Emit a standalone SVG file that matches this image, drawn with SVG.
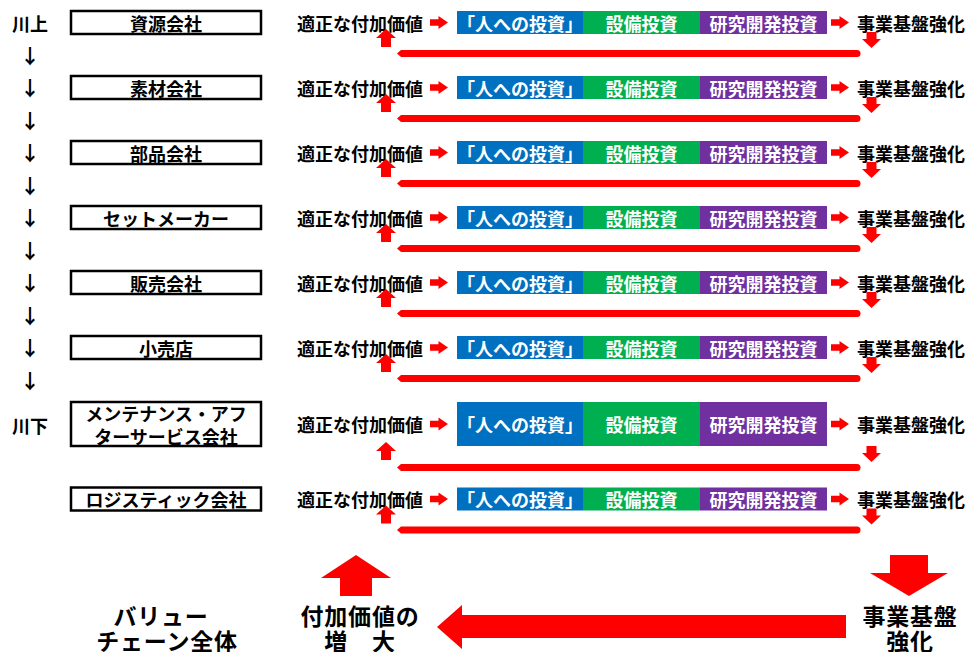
<svg xmlns="http://www.w3.org/2000/svg" xmlns:xlink="http://www.w3.org/1999/xlink" width="968" height="652" viewBox="0 0 968 652">
<style>
text{font-family:"Noto Sans CJK JP","Noto Sans CJK SC",sans-serif;font-weight:700;dominant-baseline:central;text-anchor:middle;fill:#000}
.t18{font-size:18px}
.t24{font-size:23px;letter-spacing:0.8px}
.w{fill:#fff}
.lbl{fill:#fff;stroke:#000;stroke-width:2.5}
.blue{fill:#0070C0}
.green{fill:#00B050}
.purple{fill:#7030A0}
.red{fill:#FF0000}
.sa{font-size:20px;fill:#000}
</style>
<defs>
<path id="ar" class="red" d="M0,-3.2H8.5V-6.5L18,0L8.5,6.5V3.2H0Z"/>
<path id="au" class="red" d="M0,0L10,9H5V18H-5V9H-10Z"/>
<path id="ad" class="red" d="M0,0L-9.5,-9H-5V-16H5V-9H9.5Z"/>
<path id="ln" class="red" d="M401,-3.5H857A3.5,3.5 0 0 1 857,3.5H401L397,0Z"/>
<g id="bands">
<rect class="blue" x="457" y="-11.5" width="126" height="23"/>
<rect class="green" x="583" y="-11.5" width="117" height="23"/>
<rect class="purple" x="700" y="-11.5" width="127" height="23"/>
<text class="t18 w" x="520" y="0">「人への投資」</text>
<text class="t18 w" x="641.5" y="0">設備投資</text>
<text class="t18 w" x="763.5" y="0">研究開発投資</text>
<text class="t18" x="360" y="0">適正な付加価値</text>
<text class="t18" x="911" y="0">事業基盤強化</text>
</g>
</defs>

<g id="side-labels">
<text class="t18" x="30" y="22.5">川上</text>
<text class="sa" x="30" y="55">↓</text>
<text class="sa" x="30" y="87.5">↓</text>
<text class="sa" x="30" y="120">↓</text>
<text class="sa" x="30" y="152.5">↓</text>
<text class="sa" x="30" y="185">↓</text>
<text class="sa" x="30" y="217.5">↓</text>
<text class="sa" x="30" y="250">↓</text>
<text class="sa" x="30" y="282.5">↓</text>
<text class="sa" x="30" y="315">↓</text>
<text class="sa" x="30" y="347.5">↓</text>
<text class="sa" x="30" y="380">↓</text>
<text class="t18" x="30" y="425">川下</text>
</g>

<g id="node-shigen">
<rect class="lbl" x="71" y="11" width="190" height="23"/>
<text class="t18" x="166" y="22.5">資源会社</text>
<use xlink:href="#bands" transform="translate(0,22.5)"/>
</g>
<g id="node-sozai">
<rect class="lbl" x="71" y="76" width="190" height="23"/>
<text class="t18" x="166" y="87.5">素材会社</text>
<use xlink:href="#bands" transform="translate(0,87.5)"/>
</g>
<g id="node-buhin">
<rect class="lbl" x="71" y="141" width="190" height="23"/>
<text class="t18" x="166" y="152.5">部品会社</text>
<use xlink:href="#bands" transform="translate(0,152.5)"/>
</g>
<g id="node-set">
<rect class="lbl" x="71" y="206" width="190" height="23"/>
<text class="t18" x="166" y="217.5">セットメーカー</text>
<use xlink:href="#bands" transform="translate(0,217.5)"/>
</g>
<g id="node-hanbai">
<rect class="lbl" x="71" y="271" width="190" height="23"/>
<text class="t18" x="166" y="282.5">販売会社</text>
<use xlink:href="#bands" transform="translate(0,282.5)"/>
</g>
<g id="node-kouri">
<rect class="lbl" x="71" y="336" width="190" height="23"/>
<text class="t18" x="166" y="347.5">小売店</text>
<use xlink:href="#bands" transform="translate(0,347.5)"/>
</g>
<g id="node-maint">
<rect class="lbl" x="71" y="402" width="190" height="44"/>
<text class="t18" x="166" y="413">メンテナンス・アフ</text>
<text class="t18" x="166" y="435.5">ターサービス会社</text>
<rect class="blue" x="457" y="402" width="126" height="44"/>
<rect class="green" x="583" y="402" width="117" height="44"/>
<rect class="purple" x="700" y="402" width="127" height="44"/>
<text class="t18 w" x="520" y="424">「人への投資」</text>
<text class="t18 w" x="641.5" y="424">設備投資</text>
<text class="t18 w" x="763.5" y="424">研究開発投資</text>
<text class="t18" x="360" y="424">適正な付加価値</text>
<text class="t18" x="911" y="424">事業基盤強化</text>
</g>
<g id="node-logi">
<rect class="lbl" x="71" y="487.5" width="190" height="23"/>
<text class="t18" x="166" y="499">ロジスティック会社</text>
<use xlink:href="#bands" transform="translate(0,499)"/>
</g>

<g id="connectors">
<use xlink:href="#ar" x="430" y="22.5"/><use xlink:href="#ar" x="831" y="22.5"/>
<use xlink:href="#au" x="386" y="29"/><use xlink:href="#ad" x="871.5" y="48"/><use xlink:href="#ln" y="53.5"/>
<use xlink:href="#ar" x="430" y="87.5"/><use xlink:href="#ar" x="831" y="87.5"/>
<use xlink:href="#au" x="386" y="94"/><use xlink:href="#ad" x="871.5" y="113"/><use xlink:href="#ln" y="118.5"/>
<use xlink:href="#ar" x="430" y="152.5"/><use xlink:href="#ar" x="831" y="152.5"/>
<use xlink:href="#au" x="386" y="159"/><use xlink:href="#ad" x="871.5" y="178"/><use xlink:href="#ln" y="183.5"/>
<use xlink:href="#ar" x="430" y="217.5"/><use xlink:href="#ar" x="831" y="217.5"/>
<use xlink:href="#au" x="386" y="224"/><use xlink:href="#ad" x="871.5" y="243"/><use xlink:href="#ln" y="248.5"/>
<use xlink:href="#ar" x="430" y="282.5"/><use xlink:href="#ar" x="831" y="282.5"/>
<use xlink:href="#au" x="386" y="289"/><use xlink:href="#ad" x="871.5" y="308"/><use xlink:href="#ln" y="313.5"/>
<use xlink:href="#ar" x="430" y="347.5"/><use xlink:href="#ar" x="831" y="347.5"/>
<use xlink:href="#au" x="386" y="354"/><use xlink:href="#ad" x="871.5" y="373"/><use xlink:href="#ln" y="378.5"/>
<use xlink:href="#ar" x="430" y="424"/><use xlink:href="#ar" x="831" y="424"/>
<use xlink:href="#au" x="386" y="442"/><use xlink:href="#ad" x="871.5" y="462"/><use xlink:href="#ln" y="467.5"/>
<use xlink:href="#ar" x="430" y="499"/><use xlink:href="#ar" x="831" y="499"/>
<use xlink:href="#au" x="386" y="505.5"/><use xlink:href="#ad" x="871.5" y="524.5"/><use xlink:href="#ln" y="530"/>
<path class="red" d="M356,555L391,578H372V596H340V578H321Z"/>
<path class="red" d="M890,555H928V573H948L909,596L870,573H890Z"/>
<path class="red" d="M437,627L462,605V615H846V638H462V649Z"/>
</g>

<g id="summary-left">
<text class="t24" x="161" y="615">バリュー</text>
<text class="t24" x="167" y="640">チェーン全体</text>
</g>
<g id="summary-mid">
<text class="t24" x="360" y="615">付加価値の</text>
<text class="t24" x="360" y="640">増　大</text>
</g>
<g id="summary-right">
<text class="t24" x="910" y="615">事業基盤</text>
<text class="t24" x="910" y="640">強化</text>
</g>
</svg>
